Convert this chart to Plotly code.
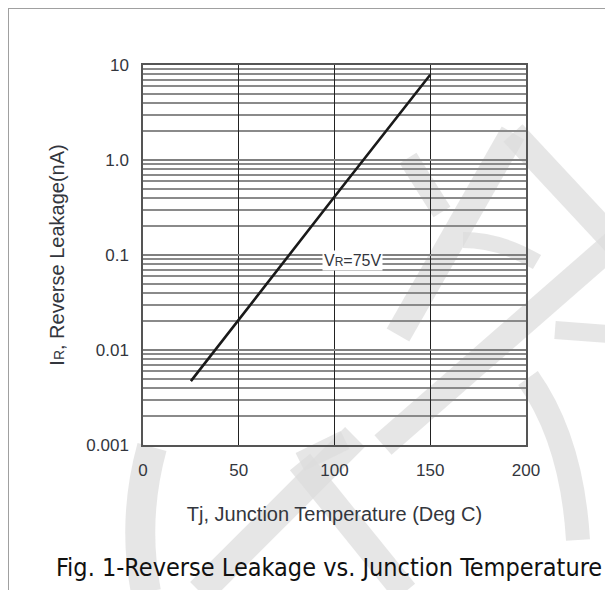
import plotly.graph_objects as go

# ---- data ----
temp_c = [25, 50, 100, 150]
leakage_na = [0.0047, 0.021, 0.41, 7.9]
x_ticks = [0, 50, 100, 150, 200]
y_tickvals = [0.001, 0.01, 0.1, 1, 10]
y_ticktext = ["0.001", "0.01", "0.1", "1.0", "10"]
minor_mult = [2, 3, 4, 5, 6, 7, 8, 9]
decades = [0.001, 0.01, 0.1, 1]
minor_vals = [d * m for d in decades for m in minor_mult]

# page has an 8px body margin; figure is sized to fit the window
OFF = 8
W, H = 613 - OFF, 590 - OFF
# plot area in page pixels
L, T, R, B = 143, 65, 526, 445

def px(x):
    return (x - L) / (R - L)

def py(y):
    return (B - y) / (B - T)

fig = go.Figure()
fig.add_trace(go.Scatter(
    x=temp_c, y=leakage_na, mode="lines",
    line=dict(color="#1a1a1a", width=2.6), showlegend=False, hoverinfo="skip"))

WM = "rgba(220,220,220,0.72)"
shapes = []
def wline(x0, y0, x1, y1, w):
    shapes.append(dict(type="line", xref="paper", yref="paper",
                       x0=px(x0), y0=py(y0), x1=px(x1), y1=py(y1),
                       line=dict(color=WM, width=w), layer="below"))

def wpath(pts, w):
    d = "M {} {}".format(px(pts[0][0]), py(pts[0][1]))
    d += " Q {} {} {} {}".format(px(pts[1][0]), py(pts[1][1]), px(pts[2][0]), py(pts[2][1]))
    shapes.append(dict(type="path", xref="paper", yref="paper", path=d,
                       line=dict(color=WM, width=w), layer="below"))

# watermark strokes (decorative)
wline(513, 133, 398, 335, 26)
wline(513, 133, 620, 248, 26)
wline(408, 158, 442, 212, 20)
wline(620, 238, 383, 445, 26)
wpath([(463, 240), (500, 240), (537, 262)], 16)
wline(555, 330, 620, 335, 18)
wpath([(528, 378), (572, 440), (578, 540)], 24)
wpath([(152, 447), (132, 520), (146, 592)], 30)
wline(200, 592, 355, 437, 28)
wline(345, 440, 300, 462, 20)
wline(300, 462, 405, 592, 26)

# frame border
shapes.append(dict(type="line", xref="paper", yref="paper",
                   x0=px(8), y0=py(592), x1=px(8), y1=py(8),
                   line=dict(color="#a0a0a0", width=2)))
shapes.append(dict(type="line", xref="paper", yref="paper",
                   x0=px(8), y0=py(8), x1=px(615), y1=py(8),
                   line=dict(color="#a0a0a0", width=2)))

tick_color = "#33363d"
fig.update_layout(
    width=W, height=H,
    margin=dict(l=L - OFF, r=613 - R, t=T - OFF, b=590 - B),
    paper_bgcolor="white", plot_bgcolor="rgba(0,0,0,0)",
    font=dict(family="Liberation Sans, Arial, sans-serif", size=16, color=tick_color),
    shapes=shapes,
    xaxis=dict(
        range=[0, 200], tickvals=x_ticks, ticktext=[str(v) for v in x_ticks],
        showgrid=True, gridcolor="#222", gridwidth=1.2, zeroline=False,
        showline=True, linecolor="#555", linewidth=1.5, mirror=True,
        ticks="", ticklabelstandoff=9,
        title=dict(text="Tj, Junction Temperature (Deg C)", standoff=28,
                   font=dict(size=20, color=tick_color)),
        tickfont=dict(size=17, color=tick_color),
    ),
    yaxis=dict(
        type="log", range=[-3, 1], tickvals=y_tickvals, ticktext=y_ticktext,
        showgrid=True, gridcolor="#808080", gridwidth=1.6, zeroline=False,
        showline=True, linecolor="#555", linewidth=1.5, mirror=True,
        ticks="", ticklabelstandoff=9,
        minor=dict(tickvals=minor_vals, showgrid=True, gridcolor="#8a8a8a",
                   gridwidth=1.5, ticks=""),
        title=dict(text="I<span style='font-size:14px'>R</span>, Reverse Leakage(nA)",
                   standoff=16, font=dict(size=20, color=tick_color)),
        tickfont=dict(size=17, color=tick_color),
    ),
    annotations=[
        dict(x=109.6, y=-1.06, xref="x", yref="y", showarrow=False,
             text="V<span style='font-size:12px'>R</span>=75V",
             bgcolor="white", borderpad=1,
             font=dict(size=16, color=tick_color)),
        dict(x=px(329), y=py(567), xref="paper", yref="paper", showarrow=False,
             xanchor="center", yanchor="middle",
             text="Fig. 1-Reverse Leakage vs. Junction Temperature",
             font=dict(family="DejaVu Sans Condensed, Liberation Sans Narrow, sans-serif",
                       size=25, color="#111")),
    ],
)

fig.write_html("out.html")
